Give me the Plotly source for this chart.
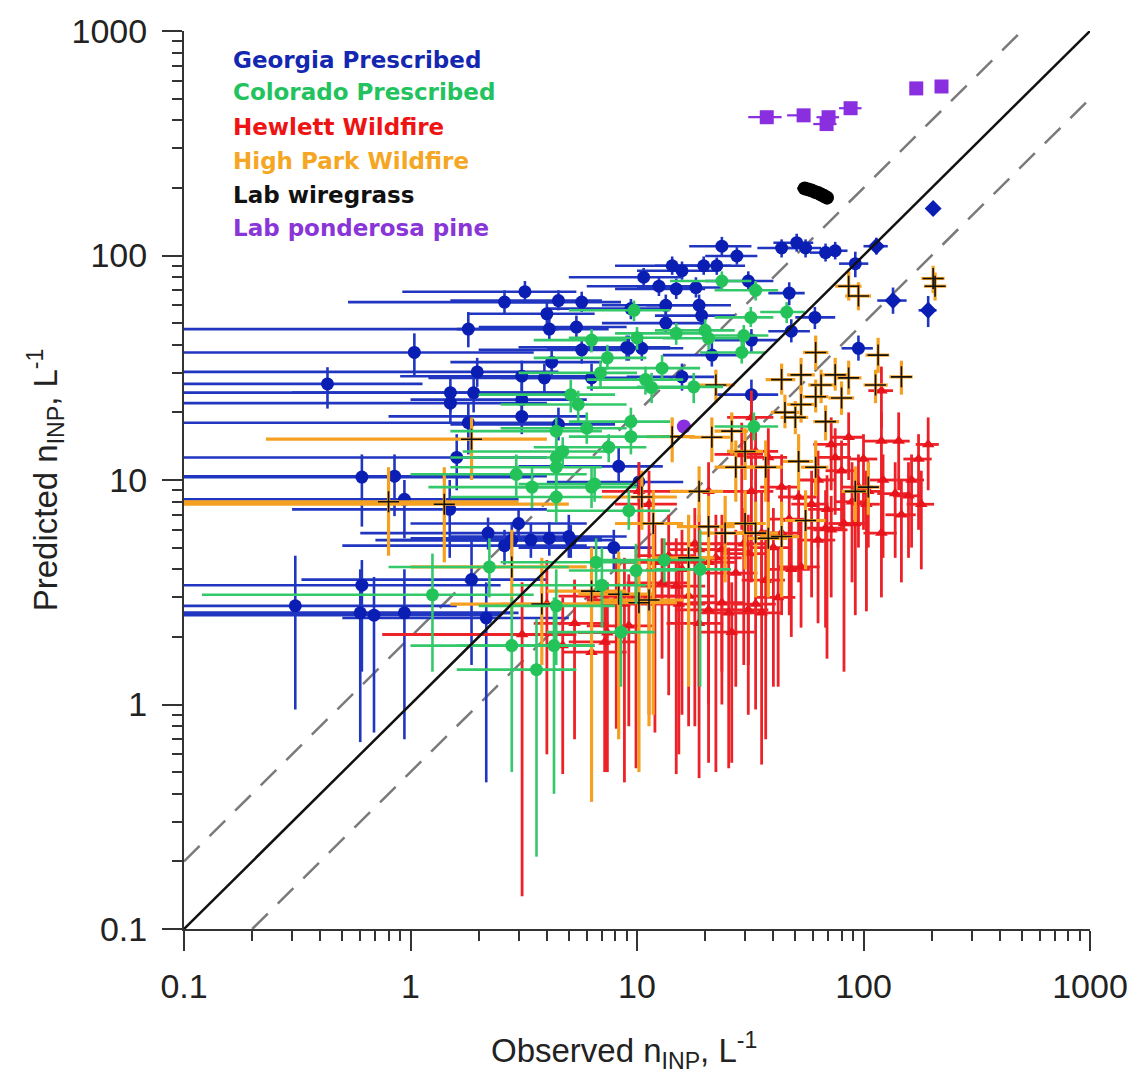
import plotly.graph_objects as go

# ---------------- data ----------------
# Georgia Prescribed
g_x   = [3.2, 2.6, 4.5, 5.7, 4.0, 1.8, 4.1, 5.4, 1.04, 5.7, 9.0, 0.43, 1.5, 1.9, 1.97, 1.5, 3.1, 3.9, 3.1, 3.1,
         1.8, 4.2, 6.3, 1.6, 0.61, 0.85, 0.94, 1.49, 1.86, 0.61, 0.31, 0.6, 0.69, 0.94, 2.16, 5.1, 2.6, 2.8, 3.4, 4.1,
         3.0, 2.2, 23.7, 27.6, 14.3, 15.8, 19.7, 22.5, 10.7, 12.5, 14.9, 18.2, 31, 43.5, 50.7, 55.5, 68, 75, 114, 92,
         203, 47, 135, 193, 61, 48, 95, 9.4, 13.4, 18.8, 19.3, 13.4, 32, 9.2, 10.5, 21.4, 15.8, 32, 4.5, 5.0,
         8.3, 10.2, 7.9]
g_y   = [69, 62, 63, 62, 55, 47, 47, 48, 37, 38, 39, 26.8, 24.5, 24.5, 30.3, 22, 29, 28.5, 22.8, 19.2,
         18, 33.5, 28.5, 12.6, 10.3, 10.4, 8.2, 7.4, 3.6, 3.4, 2.75, 2.56, 2.5, 2.56, 2.43, 5.4, 5.1, 5.4, 5.4, 5.5,
         6.4, 5.8, 110, 99.5, 90, 85.5, 90, 90, 80, 73, 71, 72, 77, 108, 114, 108, 103, 105, 110, 92,
         162, 68, 63, 57, 53, 46, 38.6, 58, 60, 60, 54, 50, 42, 38.6, 38.6, 36, 28.8, 24, 17.7, 5.6,
         11.5, 9.8, 5.0]
g_xlo = [0.92, 0.53, 1.5, 2.5, 1.8, 0.05, 1.6, 2.0, 0.05, 2.0, 3.0, 0.05, 0.05, 0.3, 0.05, 0.05, 0.9, 1.2, 1.0, 0.8,
         0.05, 1.5, 2.5, 0.05, 0.05, 0.05, 0.05, 0.3, 0.33, 0.05, 0.05, 0.05, 0.05, 0.05, 0.5, 1.5, 0.5, 0.7, 0.8, 1.0,
         1.0, 0.6, 17, 20, 8, 10, 12, 15, 5, 6, 8, 10, 20, 34, 40, 45, 58, 65, 100, 78,
         203, 38, 115, 175, 50, 38, 80, 4, 7, 11, 12, 7, 22, 4, 5, 13, 9, 22, 1.5, 1.5,
         3, 4, 3]
g_xhi = [5.4, 4.5, 7.0, 8.5, 6.5, 4.5, 7.5, 9.0, 3.5, 9.0, 14, 1.13, 5.0, 5.0, 4.5, 4.0, 6.0, 7.0, 6.0, 6.0,
         4.5, 7.0, 10, 4.0, 3.5, 4.0, 3.0, 4.0, 4.0, 2.5, 1.6, 3.0, 2.5, 2.8, 5.0, 8.0, 6.0, 6.0, 7.0, 7.0,
         6.0, 5.0, 32, 34, 20, 22, 26, 30, 16, 18, 20, 24, 40, 52, 60, 65, 78, 85, 128, 105,
         203, 55, 155, 210, 75, 58, 110, 14, 20, 26, 27, 20, 42, 14, 16, 30, 22, 42, 8, 9,
         13, 16, 12]
g_ylo = [62, 55, 57, 56, 49, 39, 42, 43, 29, 33, 34, 20.8, 20, 20, 26, 18, 25, 24, 19, 16,
         13, 29, 25, 9, 6.2, 6.9, 5.5, 4.5, 1.5, 1.4, 0.95, 0.68, 0.75, 0.7, 0.45, 4.5, 4.2, 4.5, 4.5, 4.6,
         5.4, 4.9, 100, 91, 82, 78, 82, 82, 72, 66, 64, 65, 70, 98, 104, 98, 94, 96, 101, 80,
         162, 60, 55, 48, 47, 41, 34, 52, 54, 54, 49, 45, 37, 34, 34, 32, 25, 20, 15, 4.5,
         9.5, 8, 4]
g_yhi = [77, 70, 70, 69, 62, 56, 53, 54, 45, 43, 44, 31.8, 29, 30, 35, 26, 34, 33, 27, 23,
         22, 38, 33, 16, 13, 13, 10, 10, 5.5, 4.4, 4.6, 4.0, 3.7, 4.0, 3.5, 6.3, 6.0, 6.5, 6.4, 6.5,
         7.5, 6.8, 121, 109, 99, 94, 99, 98, 88, 81, 79, 80, 85, 118, 125, 118, 113, 115, 120, 104,
         162, 76, 72, 66, 59, 52, 44, 64, 67, 67, 60, 56, 47, 44, 44, 41, 33, 28, 21, 7,
         14, 12, 6]
g_sym = ["circle"] * len(g_x)
g_sym[58] = "diamond"
g_sym[60] = "diamond"
g_sym[62] = "diamond"
g_sym[63] = "diamond"

# Colorado Prescribed
c_x   = [23.7, 33.4, 9.7, 31.8, 45.8, 6.3, 10, 14.9, 20, 20.7, 29.6, 29, 7.4, 6.9, 12.9, 10.9, 11.6, 17.8, 5.1, 5.5,
         9.4, 6.0, 4.4, 9.4, 7.5, 4.7, 4.4, 6.5, 9.2, 32.8, 1.25, 2.23, 2.8, 3.6, 4.4, 2.93, 3.44, 4.4, 4.4, 6.3,
         6.6, 7.0, 13.2, 19, 9.9, 4.3, 8.5]
c_y   = [77, 70, 57, 53, 56, 42, 43, 45, 46.4, 42.8, 44, 37, 35, 30, 31.5, 28, 25.8, 26, 24, 21.7,
         18.2, 17, 16.5, 15.6, 14, 13.4, 11.4, 9.6, 7.3, 17.3, 3.08, 4.1, 1.83, 1.43, 2.75, 10.6, 9.3, 12.6, 8.4, 9.3,
         4.3, 3.4, 4.4, 4.0, 3.95, 1.83, 2.1]
c_xlo = [14, 22, 5, 22, 35, 3.5, 5, 8, 12, 13, 20, 19, 3.5, 3, 7, 6, 6, 10, 2, 2.5,
         5, 2.5, 1.5, 5, 3.5, 1.7, 1.5, 3, 4, 22, 0.12, 0.8, 1.0, 1.6, 2, 1, 1.2, 1.5, 1.5, 3,
         2.5, 2.8, 7, 12, 5, 1.6, 4]
c_xhi = [32, 42, 14, 40, 55, 9, 15, 20, 27, 28, 38, 37, 11, 10, 19, 16, 17, 24, 8, 9,
         14, 9, 7, 14, 11, 7.5, 7, 10, 14, 42, 3.5, 5, 6, 5.4, 8, 6, 6.5, 7, 7, 10,
         10, 11, 20, 26, 15, 6.5, 12]
c_ylo = [70, 63, 51, 48, 50, 37, 38, 40, 41, 38, 39, 33, 31, 26, 28, 24, 22, 22, 20, 18,
         15.5, 14.5, 14, 13, 12, 11.5, 9.5, 8, 6, 15, 1.4, 3, 0.5, 0.21, 1.5, 8.5, 7.5, 10.5, 6.5, 7.5,
         3.2, 2.2, 3.5, 1.2, 2.8, 0.4, 1.2]
c_yhi = [85, 77, 63, 59, 62, 47, 48, 50, 52, 48, 49, 42, 40, 34, 36, 32, 30, 30, 28, 25,
         21, 20, 19, 18, 16, 15.5, 13.5, 11.5, 9, 20, 4.7, 5.5, 3, 2.4, 4, 13, 11.5, 15, 10.5, 11.5,
         5.5, 5, 5.5, 6, 5.2, 3, 3.2]

# Hewlett Wildfire
h_x   = [120, 120, 143, 193, 72, 75, 86, 138, 158, 95, 80, 32, 33.4, 29, 38, 105, 32, 10.2, 11.3, 20.7,
         43.5, 51.7, 92, 68, 72, 63, 35.5, 43.5, 31, 23.7, 20.7, 15.8, 14.9, 16.9, 20.7, 23.7, 25.4, 35.5, 31, 27.3,
         37, 48, 53, 18.8, 13.8, 12.9, 11.3, 9.9, 8.1, 6.3, 4.7, 6.3, 9.2, 7.4, 3.11, 147, 120, 89,
         18, 22.3, 29.6, 40, 47, 59, 69, 82, 103, 122, 163, 175, 180, 12, 8.8, 7.2, 5.3, 4.0, 26.2, 33.4,
         42, 18.8, 15.3, 63, 100]
h_y   = [25, 14.9, 14.9, 14.4, 14.4, 12.6, 15.5, 8.7, 8.5, 9.3, 11, 19, 13.4, 13, 12.6, 8.9, 8.9, 8.9, 7.8, 8.9,
         9.3, 8.4, 6.4, 6.1, 6.0, 5.4, 5.8, 5.8, 4.7, 4.9, 4.3, 4.0, 3.37, 3.04, 2.64, 2.84, 2.56, 2.56, 2.64, 3.85,
         3.58, 4.0, 4.1, 4.9, 4.6, 3.48, 3.04, 3.04, 2.92, 3.04, 1.83, 1.71, 2.24, 2.09, 2.05, 7, 5.8, 8,
         5.2, 4.5, 5.2, 5.0, 6.7, 7.8, 7.4, 6.4, 7.8, 10, 10, 12.4, 7.8, 4.3, 2.8, 1.9, 2.3, 2.8, 2.1, 2.8,
         3.0, 2.3, 2.8, 10, 12.4]
h_xlo = [105, 100, 125, 170, 60, 62, 72, 115, 135, 80, 68, 25, 25, 22, 30, 90, 24, 7, 8, 15,
         35, 42, 78, 56, 60, 52, 28, 35, 24, 18, 15, 11, 10, 12, 15, 17, 19, 28, 24, 20,
         29, 38, 42, 14, 10, 9, 8, 7, 6, 4.5, 3, 4.7, 6, 5.5, 0.75, 125, 100, 75,
         13, 16, 22, 32, 38, 48, 57, 70, 88, 105, 140, 150, 155, 8.5, 6, 5, 3.5, 2.5, 19, 26,
         33, 13.5, 11, 52, 86]
h_xhi = [135, 140, 160, 215, 85, 88, 100, 160, 180, 110, 92, 40, 42, 36, 46, 120, 40, 14, 15, 27,
         52, 62, 105, 80, 85, 75, 44, 52, 38, 30, 27, 21, 20, 22, 27, 30, 32, 44, 38, 34,
         45, 58, 64, 24, 18, 17, 15, 13, 11, 8.5, 6.5, 9, 12, 10, 5.4, 170, 140, 103,
         24, 29, 37, 48, 56, 70, 82, 95, 118, 140, 185, 200, 205, 16, 12, 10, 7.5, 6, 33, 41,
         50, 24, 20, 75, 115]
h_ylo = [17, 9, 9, 9, 9, 7, 10, 4.5, 4.5, 5, 6, 10, 6, 6, 6, 5, 3.5, 4, 3, 3.5,
         4, 3.5, 2.5, 2.2, 3, 2.3, 3, 2.5, 1.5, 1.4, 1.0, 0.9, 0.49, 0.8, 0.55, 1.0, 0.52, 0.54, 0.9, 1.2,
         0.7, 2.0, 2.2, 1.2, 1.1, 1.6, 0.9, 0.52, 0.78, 0.37, 0.49, 0.6, 0.8, 0.5, 0.14, 3.5, 3, 3.5,
         0.8, 0.5, 1.5, 1.2, 2.5, 3, 1.6, 1.4, 2.6, 4.5, 5, 6, 4, 0.75, 0.45, 0.5, 0.7, 0.6, 0.55, 0.95,
         1.2, 0.47, 0.6, 5, 6]
h_yhi = [32, 20, 20, 19, 19, 17, 20, 12, 12, 13, 15, 25, 18, 18, 17, 12, 12, 12, 11, 12,
         13, 12, 9, 9, 8.5, 8, 9, 9, 7, 7, 6.5, 6, 5.5, 5, 5, 5, 5, 5, 4.5, 6,
         6, 6.5, 6.5, 7, 7, 5.5, 5, 5, 4.5, 4.8, 3, 3, 3.8, 3.5, 3.5, 10, 9, 12,
         7.5, 7, 7.5, 7.5, 9.5, 11, 10.5, 9, 11, 13, 13, 16, 11, 6.5, 4.5, 3.2, 3.6, 4.4, 3.5, 4.5,
         5, 3.8, 4.6, 13.5, 16]

# High Park Wildfire
p_x   = [86, 95, 203, 207, 61.5, 53, 43.5, 65, 75, 86, 116, 147, 113, 61.5, 53, 45, 80, 50, 68, 22.3,
         26.2, 27.3, 30, 37, 51.7, 61.5, 14.3, 21.4, 10.5, 18.8, 20.7, 92, 105, 55.5, 33.4, 43.5, 11.3, 6.3, 0.8, 1.41,
         1.86, 2.8, 3.8, 10.2, 24.5, 30, 38, 16.9, 11.8, 8.3]
p_y   = [73, 66, 79, 73, 37, 29.4, 28, 26.5, 29.4, 28.5, 36, 28.8, 26.5, 23.5, 21.7, 20, 23.2, 19, 18.2, 26.5,
         16.5, 11.4, 13.4, 11.4, 12.1, 11.4, 15.6, 15.5, 8.4, 8.9, 6.2, 8.9, 9.3, 6.6, 5.8, 5.6, 2.92, 3.2, 8.0, 7.8,
         15.2, 4.1, 2.8, 2.84, 5.8, 6.4, 5.5, 4.5, 6.4, 3.1]
p_xlo = [75, 83, 180, 185, 54, 46, 37, 57, 66, 75, 102, 130, 100, 54, 46, 39, 70, 43, 60, 18,
         22, 22, 25, 31, 44, 53, 11, 17, 7, 14, 15, 80, 92, 45, 27, 35, 7, 4, 0.05, 0.05,
         0.23, 1.0, 1.5, 6, 19, 24, 31, 12, 8, 5.5]
p_xhi = [98, 108, 228, 232, 70, 61, 50, 74, 85, 98, 130, 165, 128, 70, 61, 52, 91, 57, 78, 27,
         31, 33, 36, 44, 60, 70, 18, 26, 15, 24, 27, 105, 118, 68, 42, 52, 16, 9, 3, 5,
         4, 6, 7, 15, 31, 37, 46, 22, 16, 12]
p_ylo = [63, 57, 68, 63, 31, 25, 24, 22, 25, 24, 30, 24, 22, 20, 18, 17, 19.5, 16, 15, 22,
         13, 8, 10, 8, 9, 8.5, 12, 12, 6, 6.5, 4, 6.5, 7, 4, 3, 3, 0.8, 0.37, 4.6, 4.3,
         10, 2.5, 1.5, 0.5, 3.5, 4, 3, 1.2, 0.9, 0.7]
p_yhi = [85, 76, 90, 84, 44, 35, 33, 31, 35, 34, 43, 34, 31, 28, 26, 24, 27.5, 22.5, 21.5, 31,
         20, 15, 17, 15, 16, 15, 19, 19, 11, 11.5, 8.5, 11.5, 12, 9, 8, 8, 4.5, 5, 11.4, 11.4,
         19, 6, 4.5, 4.5, 8.5, 9, 8, 7, 9, 4.8]

# Lab wiregrass
w_x   = [55, 57, 59, 61, 63, 65, 67, 69]
w_y   = [199, 197, 195, 192, 190, 187, 184, 181]
w_xlo = [51, 53, 55, 57, 59, 61, 63, 65]
w_xhi = [59, 61, 63, 65, 67, 69, 71, 73]
w_ylo = [192, 190, 188, 185, 183, 180, 177, 174]
w_yhi = [206, 204, 202, 199, 197, 194, 191, 188]

# Lab ponderosa pine
l_x   = [37.4, 54.4, 70.1, 68.7, 87.7, 171, 221, 16.1]
l_y   = [413, 421, 413, 385, 453, 555, 566, 17.3]
l_xlo = [31, 46, 62, 60, 78, 171, 221, 16.1]
l_xhi = [43.5, 58, 78, 76, 98, 171, 221, 16.1]
l_ylo = [400, 408, 400, 373, 440, 555, 566, 17.3]
l_yhi = [426, 434, 426, 397, 466, 555, 566, 17.3]
l_sym = ["square"] * 7 + ["circle"]

# reference lines
one_x = [0.1, 1000]
one_y = [0.1, 1000]
up_x = [0.1, 500]
up_y = [0.2, 1000]
lo_x = [0.2, 1000]
lo_y = [0.1, 500]

legend_names = ["Georgia Prescribed", "Colorado Prescribed", "Hewlett Wildfire",
                "High Park Wildfire", "Lab wiregrass", "Lab ponderosa pine"]
legend_colors = ["#1427b0", "#22c35e", "#ee1414", "#f5a623", "#111111", "#8a35d8"]

tick_vals = [0.1, 1, 10, 100, 1000]
tick_text = ["0.1", "1", "10", "100", "1000"]
minor_vals = [m * d for d in [0.1, 1, 10, 100] for m in range(2, 10)]


def errs(v, lo, hi):
    return [h - a for a, h in zip(v, hi)], [a - l for a, l in zip(v, lo)]


def series(x, y, xlo, xhi, ylo, yhi, marker, ecolor, ethick):
    xp, xm = errs(x, xlo, xhi)
    yp, ym = errs(y, ylo, yhi)
    return go.Scatter(
        x=x, y=y, mode="markers", marker=marker, showlegend=False, hoverinfo="skip",
        error_x=dict(type="data", symmetric=False, array=xp, arrayminus=xm,
                     width=0, thickness=ethick, color=ecolor),
        error_y=dict(type="data", symmetric=False, array=yp, arrayminus=ym,
                     width=0, thickness=ethick, color=ecolor),
    )


fig = go.Figure()

dash_style = dict(color="#7a7a7a", width=2.5, dash="22px,14px")
fig.add_trace(go.Scatter(x=up_x, y=up_y, mode="lines", line=dash_style, showlegend=False, hoverinfo="skip"))
fig.add_trace(go.Scatter(x=lo_x, y=lo_y, mode="lines", line=dash_style, showlegend=False, hoverinfo="skip"))

fig.add_trace(series(g_x, g_y, g_xlo, g_xhi, g_ylo, g_yhi,
                     dict(symbol=g_sym, size=13, color="#0a1eb4"), "#2136c0", 2.6))
fig.add_trace(series(h_x, h_y, h_xlo, h_xhi, h_ylo, h_yhi,
                     dict(symbol="triangle-up", size=11, color="#e8141c"), "#ec2228", 2.8))
fig.add_trace(series(p_x, p_y, p_xlo, p_xhi, p_ylo, p_yhi,
                     dict(symbol="cross-thin", size=15, line=dict(color="#111111", width=1.6)),
                     "#f5a020", 3.2))
fig.add_trace(series(c_x, c_y, c_xlo, c_xhi, c_ylo, c_yhi,
                     dict(symbol="circle", size=13, color="#23c35a"), "#33c86a", 2.6))
fig.add_trace(series(w_x, w_y, w_xlo, w_xhi, w_ylo, w_yhi,
                     dict(symbol="circle", size=14, color="#000000"), "#000000", 2.5))
fig.add_trace(series(l_x, l_y, l_xlo, l_xhi, l_ylo, l_yhi,
                     dict(symbol=l_sym, size=14, color="#8a2fe0"), "#8a2fe0", 2.2))

fig.add_trace(go.Scatter(x=one_x, y=one_y, mode="lines", line=dict(color="#111111", width=2.5),
                         showlegend=False, hoverinfo="skip"))

axis_common = dict(
    type="log", range=[-1, 3], tickmode="array", tickvals=tick_vals, ticktext=tick_text,
    ticks="outside", ticklen=20, tickwidth=2, tickcolor="#333333",
    showline=True, linecolor="#333333", linewidth=2, showgrid=False, zeroline=False,
    tickfont=dict(family="Liberation Sans, Arial", size=34, color="#222222"),
    minor=dict(tickmode="array", tickvals=minor_vals, ticks="outside", ticklen=10,
               tickwidth=2, tickcolor="#333333", showgrid=False),
)
fig.update_layout(
    width=1140, height=1076,
    margin=dict(l=184, r=48, t=23, b=147),
    paper_bgcolor="white", plot_bgcolor="white",
    xaxis=dict(**axis_common, ticklabelstandoff=6),
    yaxis=dict(**axis_common, ticklabelstandoff=8),
)

ann = []
rows_y = [52, 85, 120, 154, 188, 222]
for name, col, py in zip(legend_names, legend_colors, rows_y):
    ann.append(dict(xref="paper", yref="paper", x=(231 - 184) / 908, y=(929 - py) / 906,
                    xanchor="left", yanchor="middle", showarrow=False,
                    text="<b>" + name + "</b>",
                    font=dict(family="DejaVu Sans", size=23, color=col)))
ann.append(dict(xref="paper", yref="paper", x=(625 - 184) / 908, y=(929 - 1026) / 906,
                xanchor="center", yanchor="top", showarrow=False,
                text="Observed n<sub>INP</sub>, L<sup>-1</sup>",
                font=dict(family="Liberation Sans, Arial", size=33, color="#222222")))
ann.append(dict(xref="paper", yref="paper", x=(45 - 184) / 908, y=0.5,
                xanchor="center", yanchor="middle", showarrow=False, textangle=-90,
                text="Predicted n<sub>INP</sub>, L<sup>-1</sup>",
                font=dict(family="Liberation Sans, Arial", size=33, color="#222222")))
fig.update_layout(annotations=ann)

fig.write_html("out.html")
